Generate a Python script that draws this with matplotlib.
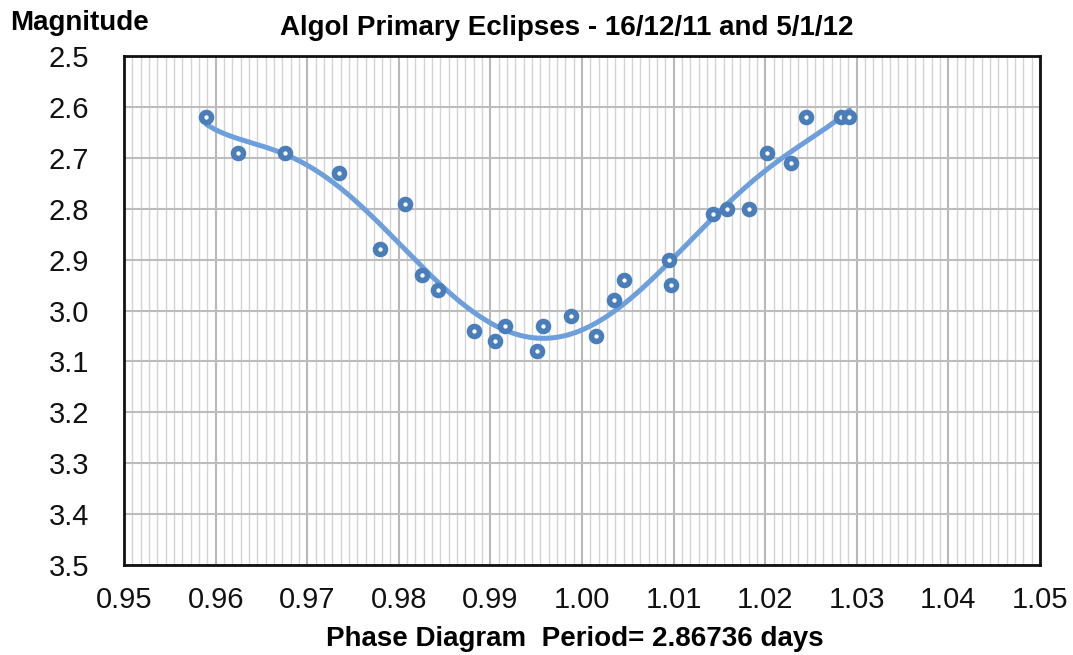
import numpy as np
import matplotlib.pyplot as plt
from matplotlib.ticker import MultipleLocator, FixedLocator, FormatStrFormatter

plt.rcParams['font.family'] = ['Liberation Sans', 'DejaVu Sans']

# phase and magnitude
phase = [0.9590, 0.9624, 0.9676, 0.9735, 0.9779, 0.9807, 0.9825, 0.9843, 0.9882,
         0.9905, 0.9916, 0.9951, 0.9957, 0.9988, 1.0015, 1.0035, 1.0046, 1.0095,
         1.0097, 1.0143, 1.0158, 1.0182, 1.0202, 1.0228, 1.0245, 1.0283, 1.0292]
mag = [2.62, 2.69, 2.69, 2.73, 2.88, 2.79, 2.93, 2.96, 3.04,
       3.06, 3.03, 3.08, 3.03, 3.01, 3.05, 2.98, 2.94, 2.90,
       2.95, 2.81, 2.80, 2.80, 2.69, 2.71, 2.62, 2.62, 2.62]

fig = plt.figure(figsize=(10.73, 6.55), dpi=100)
ax = fig.add_axes([0.1156, 0.1374, 0.9692 - 0.1156, 0.9145 - 0.1374])

# polynomial trendline through the points
xs = np.array(phase)
coef = np.polyfit(xs - 1.0, mag, 6)
xf = np.linspace(xs.min(), xs.max(), 300)
ax.plot(xf, np.polyval(coef, xf - 1.0), color='#6c9fdb', lw=3.6, zorder=3,
        solid_capstyle='round')
ax.plot(phase, mag, 'o', ms=7.2, mfc='white', mec='#4a7ebb', mew=4, zorder=4)

ax.set_xlim(0.95, 1.05)
ax.set_ylim(3.5, 2.5)
ax.xaxis.set_major_locator(MultipleLocator(0.01))
ax.xaxis.set_major_formatter(FormatStrFormatter('%.2f'))
minor = [0.95 + i * 0.01 / 11 for i in range(111)]
ax.xaxis.set_minor_locator(FixedLocator(minor))
ax.yaxis.set_major_locator(MultipleLocator(0.1))
ax.yaxis.set_major_formatter(FormatStrFormatter('%.1f'))

ax.grid(which='minor', axis='x', color='#d4d4d4', lw=1.0)
ax.grid(which='major', axis='x', color='#b8b8b8', lw=1.5)
ax.grid(which='major', axis='y', color='#bdbdbd', lw=1.5)
ax.set_axisbelow(True)
ax.tick_params(which='both', length=0, labelsize=21, colors='#111111')
ax.tick_params(axis='x', pad=15)
ax.tick_params(axis='y', pad=25)
for s in ax.spines.values():
    s.set_linewidth(2)
    s.set_color('#111111')

fig.text(0.0095, 0.965, 'Magnitude', fontsize=20, fontweight='bold', va='center')
fig.text(0.528, 0.957, 'Algol Primary Eclipses - 16/12/11 and 5/1/12',
         fontsize=20, fontweight='bold', ha='center', va='center')
fig.text(0.536, 0.025, 'Phase Diagram  Period= 2.86736 days',
         fontsize=20, fontweight='bold', ha='center', va='center')

fig.savefig('out.png', dpi=100)
